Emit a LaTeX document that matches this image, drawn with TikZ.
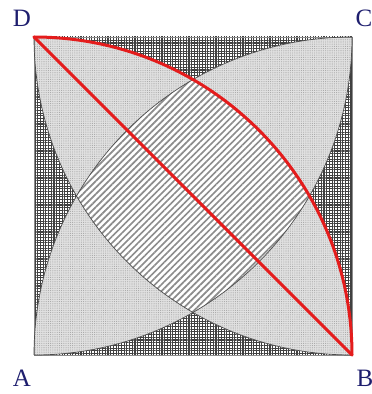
\documentclass[tikz,border=0pt]{standalone}
\usepackage{fontspec}
\setmainfont{Liberation Serif}
\usetikzlibrary{patterns.meta}
\definecolor{navy}{RGB}{30,30,110}
\definecolor{redline}{RGB}{228,28,28}
\tikzset{
  lbl/.style={text=navy,font=\fontsize{25}{25}\selectfont,inner sep=0pt},
  darkgrid/.style={fill=white,postaction={pattern={Hatch[angle=0,distance=2.7pt,line width=1.15pt]},pattern color=black!75}},
  lightdots/.style={fill=black!12,postaction={pattern={Dots[distance=2.2pt,radius=0.55pt]},pattern color=black!35}},
  hatched/.style={fill=white,postaction={pattern={Lines[angle=45,distance=4.6pt,line width=1.7pt]},pattern color=black!45}},
  thinarc/.style={draw=black!70,line width=0.7pt},
  redstroke/.style={draw=redline,line width=3pt,line cap=round,line join=round}
}
\begin{document}
\begin{tikzpicture}[x=1pt,y=1pt]
\useasboundingbox (0,0) rectangle (372,394);
\coordinate (A) at (34,39);
\coordinate (B) at (352,39);
\coordinate (C) at (352,357);
\coordinate (D) at (34,357);
\def\R{318}
% corners: dark grid over the whole square
\path[darkgrid] (A) rectangle (C);
% lens D-B and lens A-C, light dotted
\path[lightdots] (D) arc[start angle=90,end angle=0,radius=\R] arc[start angle=270,end angle=180,radius=\R] -- cycle;
\path[lightdots] (A) arc[start angle=-90,end angle=0,radius=\R] arc[start angle=90,end angle=180,radius=\R] -- cycle;
% central region, hatched
\begin{scope}
\clip (D) arc[start angle=90,end angle=0,radius=\R] arc[start angle=270,end angle=180,radius=\R] -- cycle;
\path[hatched] (A) arc[start angle=-90,end angle=0,radius=\R] arc[start angle=90,end angle=180,radius=\R] -- cycle;
\end{scope}
% thin arcs and border
\draw[black!45,line width=0.6pt] (A) rectangle (C);
\draw[thinarc] (B) arc[start angle=270,end angle=180,radius=\R];
\draw[thinarc] (A) arc[start angle=-90,end angle=0,radius=\R];
\draw[thinarc] (C) arc[start angle=90,end angle=180,radius=\R];
% red arc centred at A and diagonal
\draw[redstroke] (D) arc[start angle=90,end angle=0,radius=\R];
\draw[redstroke] (D) -- (B);
% labels
\node[lbl] (lD) at (22,376) {D};
\node[lbl] (lC) at (364,376) {C};
\node[lbl] (lA) at (22,16) {A};
\node[lbl] (lB) at (365,16) {B};
\end{tikzpicture}
\end{document}
